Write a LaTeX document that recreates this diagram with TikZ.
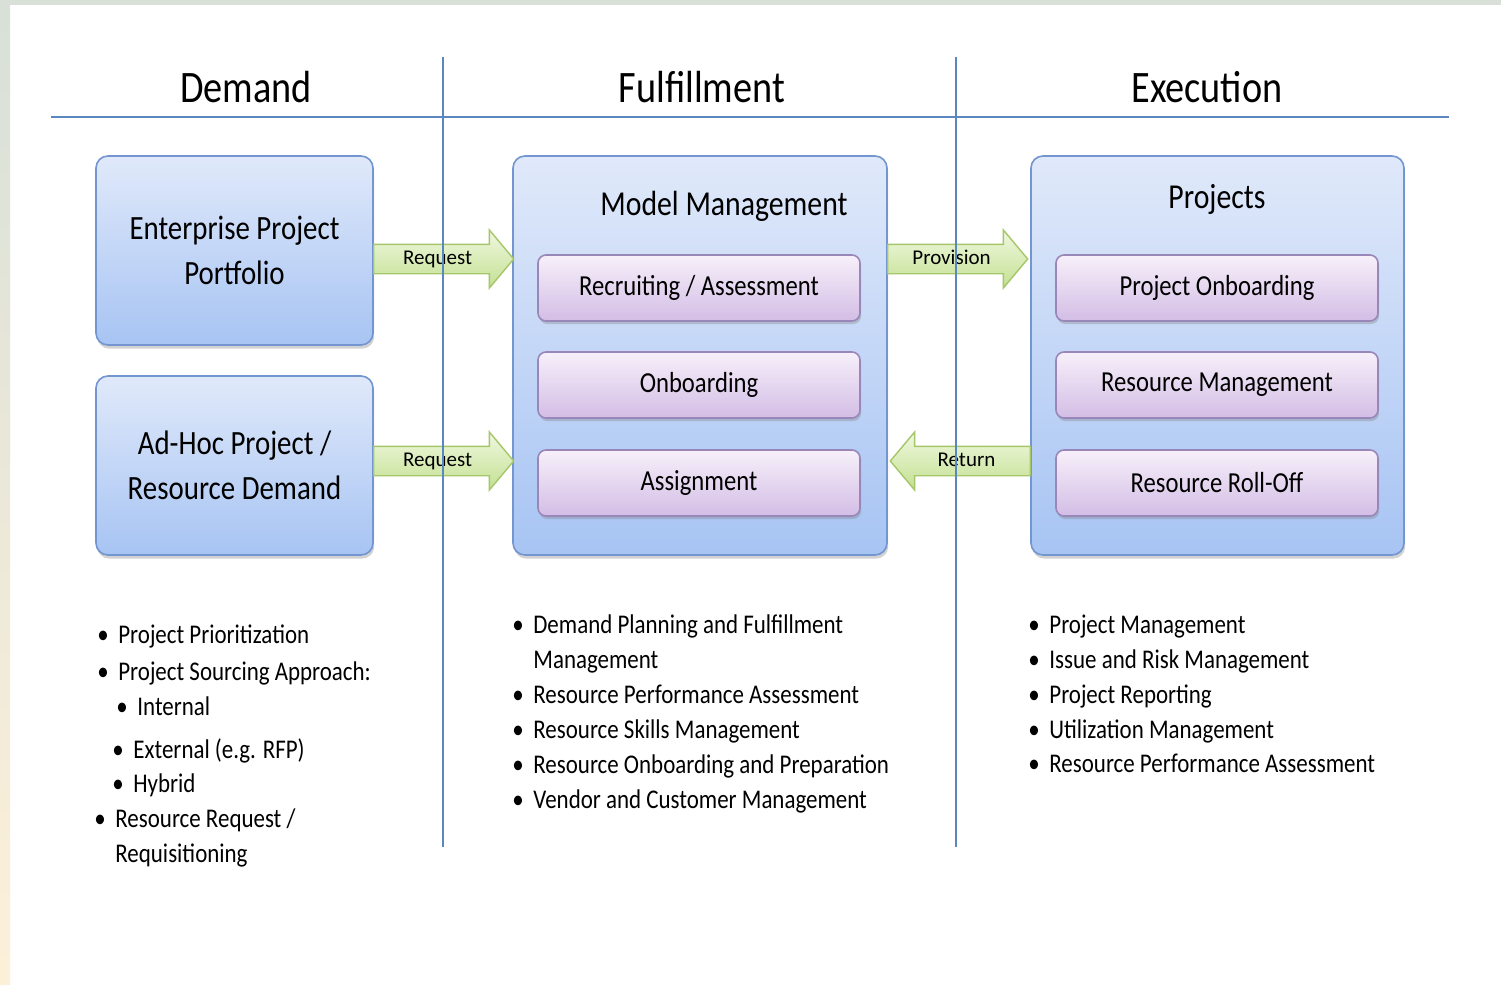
\documentclass[tikz,border=0pt]{standalone}
\usepackage{fontspec}
\setmainfont{Carlito}
\newfontfamily\narrowfont[FakeStretch=0.85]{Carlito}
\usepackage{tikz}
\usetikzlibrary{positioning,shapes.arrows,shadows}
\definecolor{rulecol}{HTML}{5B86C0}
\definecolor{boxtop}{HTML}{E0E9FA}
\definecolor{boxbot}{HTML}{A7C4F3}
\definecolor{boxedge}{HTML}{7395D0}
\definecolor{tasktop}{HTML}{F7F0FA}
\definecolor{taskbot}{HTML}{D3BDE5}
\definecolor{taskedge}{HTML}{9A87BA}
\definecolor{flowtop}{HTML}{F0F8E0}
\definecolor{flowbot}{HTML}{C3E092}
\definecolor{flowedge}{HTML}{A6C66A}
\definecolor{edgetop}{HTML}{D8E0D8}
\definecolor{edgebot}{HTML}{FDF0D9}
\newcommand\bul{\makebox[10.5pt][l]{•}}

\begin{document}
\begin{tikzpicture}[x=0.5pt, y=-0.5pt,
  phase/.style={anchor=base, inner sep=0pt, font=\narrowfont\fontsize{22.5}{27}\selectfont},
  sep/.style={rulecol, line width=1pt},
  bluebox/.style={draw=boxedge, line width=0.8pt, rounded corners=6pt,
    top color=boxtop, bottom color=boxbot, align=center,
    drop shadow={shadow xshift=0.6pt, shadow yshift=-1.8pt, opacity=0.35}},
  group/.style={bluebox, font=\narrowfont\fontsize{17}{22.5}\selectfont},
  task/.style={draw=taskedge, line width=0.8pt, rounded corners=4pt,
    top color=tasktop, bottom color=taskbot,
    minimum width=161pt, minimum height=33pt,
    font=\narrowfont\fontsize{14.5}{17}\selectfont,
    drop shadow={shadow xshift=0.6pt, shadow yshift=-1.5pt, opacity=0.35}},
  flow/.style={single arrow, draw=flowedge, line width=0.7pt,
    top color=flowtop, bottom color=flowbot,
    minimum height=70pt, minimum width=28pt, single arrow tip angle=100,
    text height=7.5pt, text depth=2pt, inner ysep=2.25pt, inner xsep=2pt,
    font=\fontsize{10.5}{12}\selectfont},
  note/.style={anchor=base west, inner sep=0pt, font=\narrowfont\fontsize{13.5}{16}\selectfont}]

  \useasboundingbox (0,0) rectangle (1501,985);
  \fill[white] (0,0) rectangle (1501,985);
  \fill[edgetop] (0,0) rectangle (1501,5);
  \shade[top color=edgetop, bottom color=edgebot] (0,0) rectangle (10,985);

  % phase headings
  \node[phase] (demand) at (246,102) {Demand};
  \node[phase] (fulfil) at (702,102) {Fulfillment};
  \node[phase] (exec) at (1207,102) {Execution};
  \draw[sep] (51,117) -- (1449,117);

  % demand side
  \node[group, minimum width=138.5pt, minimum height=94.5pt] (portfolio) at (234.5,250.5)
    {Enterprise Project\\Portfolio};
  \node[group, minimum width=138.5pt, minimum height=89.5pt] (adhoc) at (234.5,465.5)
    {Ad-Hoc Project /\\Resource Demand};

  % fulfillment container
  \node[bluebox, minimum width=187pt, minimum height=199.5pt] (model) at (700,355.5) {};
  \node[phase, font=\narrowfont\fontsize{17.5}{21}\selectfont] (modeltitle) at (724,215) {Model Management};
  \node[task] (recruit) at (699,288) {Recruiting / Assessment};
  \node[task] (onboard) at (699,385) {Onboarding};
  \node[task] (assign) at (699,483) {Assignment};

  % execution container
  \node[bluebox, minimum width=186.5pt, minimum height=199.5pt] (projects) at (1217.5,355.5) {};
  \node[phase, font=\narrowfont\fontsize{17.5}{21}\selectfont] (projtitle) at (1217,208) {Projects};
  \node[task] (projonb) at (1217,288) {Project Onboarding};
  \node[task] (resmgmt) at (1217,385) {Resource Management};
  \node[task] (rolloff) at (1217,483) {Resource Roll-Off};

  % hand-offs
  \node[flow, anchor=tail] (req1) at (373,259) {Request};
  \node[flow, anchor=tail] (req2) at (373,461) {Request};
  \node[flow, anchor=tail] (prov) at (887,259) {Provision};
  \node[flow, anchor=tail, shape border rotate=180] (ret) at (1031,461) {Return};

  \draw[sep] (443,57) -- (443,847);
  \draw[sep] (956,57) -- (956,847);

  % activity lists
  \foreach \x/\y/\t [count=\i] in {
      97/643/{\bul Project Prioritization},
      97/680/{\bul Project Sourcing Approach:},
      116/715/{\bul Internal},
      112/758/{\bul External (e.g. RFP)},
      112/792/{\bul Hybrid},
      94/827/{\bul Resource Request /},
      115/862/{Requisitioning}}
    \node[note] (dem\i) at (\x,\y) {\t};
  \foreach \x/\y/\t [count=\i] in {
      512/633/{\bul Demand Planning and Fulfillment},
      533/668/{Management},
      512/703/{\bul Resource Performance Assessment},
      512/738/{\bul Resource Skills Management},
      512/773/{\bul Resource Onboarding and Preparation},
      512/808/{\bul Vendor and Customer Management}}
    \node[note] (ful\i) at (\x,\y) {\t};
  \foreach \x/\y/\t [count=\i] in {
      1028/633/{\bul Project Management},
      1028/668/{\bul Issue and Risk Management},
      1028/703/{\bul Project Reporting},
      1028/738/{\bul Utilization Management},
      1028/772/{\bul Resource Performance Assessment}}
    \node[note] (exe\i) at (\x,\y) {\t};
\end{tikzpicture}
\end{document}
